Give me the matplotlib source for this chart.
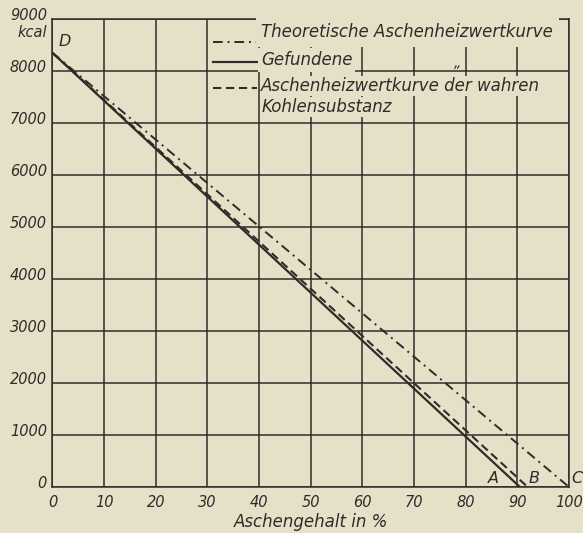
import matplotlib.pyplot as plt
from matplotlib import transforms

BG = "#e6e0c8"
INK = "#2e2c28"

x_ticks = list(range(0, 101, 10))
y_ticks = list(range(0, 9001, 1000))
y_tick_labels = [str(v) for v in y_ticks]

# all three curves start at D and run down to the x-axis
ash_theoretical = [0, 100]
heat_theoretical = [8350, 0]
ash_found = [0, 90.5]
heat_found = [8350, 0]
ash_pure = [0, 92]
heat_pure = [8350, 0]

legend_lines = ["Theoretische Aschenheizwertkurve", "Gefundene",
                "Aschenheizwertkurve der wahren", "Kohlensubstanz"]

plt.rcParams["font.family"] = "DejaVu Sans"
plt.rcParams["font.style"] = "italic"

fig = plt.figure(figsize=(5.83, 5.33), dpi=100, facecolor=BG)
ax = fig.add_axes([0.09, 0.0863, 0.886, 0.878], facecolor=BG)

ax.set_xlim(0, 100)
ax.set_ylim(0, 9000)
ax.set_xticks(x_ticks)
ax.set_yticks(y_ticks)
ax.set_yticklabels(y_tick_labels)
ax.tick_params(length=0, labelsize=10.5, colors=INK, pad=4)
ax.tick_params(axis="x", pad=6)
for lab in ax.get_yticklabels():
    lab.set_transform(lab.get_transform() +
                      transforms.ScaledTranslation(0, 5 / 100, fig.dpi_scale_trans))
ax.grid(True, color=INK, lw=1.1)
ax.set_axisbelow(True)
for s in ax.spines.values():
    s.set_color(INK)
    s.set_linewidth(1.1)

ax.text(-1, 8750, "kcal", ha="right", va="center", fontsize=10.5, color=INK)
ax.set_xlabel("Aschengehalt in %", fontsize=12, color=INK, labelpad=2)

ax.plot(ash_theoretical, heat_theoretical, color=INK, lw=1.4, dashes=(5, 2.5, 1, 2.5), zorder=2)
ax.plot(ash_found, heat_found, color=INK, lw=1.6, zorder=2)
ax.plot(ash_pure, heat_pure, color=INK, lw=1.5, dashes=(4, 2.2), zorder=2)

# legend drawn inside the grid, as in the original
ax.plot([31, 39.5], [8560, 8560], color=INK, lw=1.4, dashes=(5, 2.5, 1, 2.5))
ax.plot([31, 39.5], [8170, 8170], color=INK, lw=1.6)
ax.plot([31, 39.5], [7670, 7670], color=INK, lw=1.5, dashes=(4, 2.2))
ys = [8750, 8210, 7710, 7310]
pads = [4, 2, 1, 1]
for txt, y, p in zip(legend_lines, ys, pads):
    ax.text(40.4, y, txt, ha="left", va="center", fontsize=12, color=INK, zorder=3,
            bbox=dict(facecolor=BG, edgecolor="none", pad=p))
ax.text(78.5, 8150, "\u201e", ha="center", va="center", fontsize=10, color=INK, zorder=4)

pt_box = dict(facecolor=BG, edgecolor="none", pad=0.5)
ax.text(2.3, 8560, "D", ha="center", va="center", fontsize=11.5, color=INK)
ax.text(85.3, 170, "A", ha="center", va="center", fontsize=11.5, color=INK, bbox=pt_box, zorder=3)
ax.text(93.3, 170, "B", ha="center", va="center", fontsize=11.5, color=INK, bbox=pt_box, zorder=3)
ax.text(101.6, 170, "C", ha="center", va="center", fontsize=11.5, color=INK, clip_on=False)

fig.savefig("out.png", dpi=100, facecolor=BG)
